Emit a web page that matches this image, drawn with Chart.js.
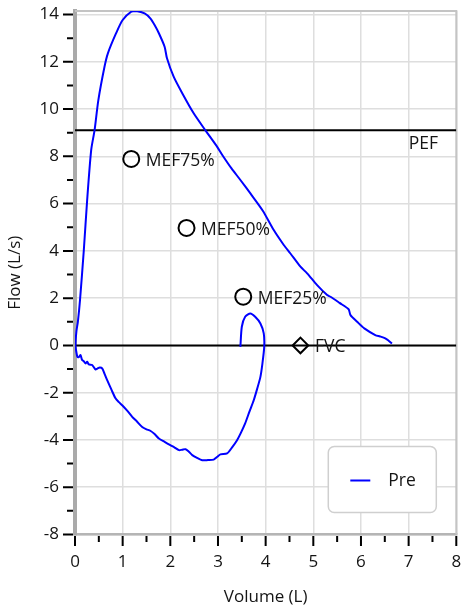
<!DOCTYPE html>
<html><head><meta charset="utf-8">
<script src="https://cdn.jsdelivr.net/npm/chart.js@4.4.1/dist/chart.umd.min.js"></script>
<style>html,body{margin:0;padding:0;background:#fff;overflow:hidden}canvas{display:block}</style>
</head><body>
<canvas id="c" width="462" height="611"></canvas>
<script>
// ---- data ----
const seriesLabel = 'Pre';
const loopVolume = [3.47,3.50,3.57,3.68,3.78,3.89,3.96,3.97,3.93,3.89,3.82,3.75,3.66,3.57,3.48,3.40,3.30,3.19,3.05,2.98,2.91,2.79,2.67,2.56,2.46,2.39,2.32,2.25,2.18,2.09,2.00,1.88,1.76,1.67,1.58,1.50,1.41,1.30,1.20,1.09,0.99,0.92,0.85,0.76,0.675,0.62,0.57,0.52,0.47,0.43,0.36,0.29,0.255,0.22,0.18,0.15,0.115,0.08,0.05,0.03,0.01,
  0.03,0.06,0.105,0.185,0.255,0.34,0.41,0.49,0.62,0.69,0.86,1.0,1.18,1.28,1.46,1.58,1.67,1.76,1.88,1.93,2.07,2.25,2.49,2.74,2.98,3.09,3.28,3.47,3.68,3.94,4.17,4.38,4.52,4.73,4.87,5.08,5.29,5.36,5.55,5.74,5.78,5.92,6.07,6.30,6.40,6.51,6.58,6.65];
const loopFlow = [-0.06,0.79,1.21,1.35,1.21,0.93,0.51,-0.06,-0.8,-1.33,-1.85,-2.32,-2.8,-3.30,-3.7,-4.01,-4.3,-4.57,-4.61,-4.72,-4.83,-4.85,-4.86,-4.76,-4.64,-4.5,-4.39,-4.41,-4.43,-4.32,-4.22,-4.08,-3.94,-3.75,-3.61,-3.55,-3.45,-3.22,-3.02,-2.75,-2.53,-2.4,-2.24,-1.85,-1.47,-1.2,-0.97,-0.93,-0.98,-1.02,-0.83,-0.8,-0.69,-0.76,-0.66,-0.62,-0.41,-0.5,-0.48,-0.3,0.0,
  0.6,1.0,1.92,4.03,6.15,8.27,9.1,10.38,11.8,12.36,13.2,13.77,14.12,14.15,14.05,13.84,13.56,13.21,12.64,12.15,11.37,10.67,9.82,9.09,8.41,8.06,7.5,7.0,6.43,5.7,4.88,4.25,3.89,3.33,3.05,2.55,2.13,2.06,1.8,1.53,1.28,1.0,0.72,0.44,0.38,0.30,0.2,0.08];
const mefLabels = ['MEF75%','MEF50%','MEF25%'];
const mefVolume = [1.18,2.34,3.53];
const mefFlow = [7.89,4.97,2.06];
const fvcLabel = 'FVC';
const fvcVolume = [4.73];
const fvcFlow = [0];
const pefLabel = 'PEF';
const pefFlow = 9.1;
const pefLabelVolume = 7.0;
const xRange = [0, 8];
const yRange = [-8, 14.15];
const xTitle = 'Volume (L)';
const yTitle = 'Flow (L/s)';

const FONT = "'Open Sans', sans-serif";
const TXT = '#141414';

const pts = (xs, ys) => xs.map((x, i) => ({x, y: ys[i]}));

const tickMarks = {
  id: 'tickMarks',
  afterDraw(chart) {
    const ctx = chart.ctx, ca = chart.chartArea;
    const xs = chart.scales.x, ys = chart.scales.y;
    ctx.save();
    ctx.strokeStyle = '#000';
    ctx.lineWidth = 2;
    ctx.beginPath();
    xs.ticks.forEach(t => {
      const p = xs.getPixelForValue(t.value);
      const len = Number.isInteger(t.value) ? 10 : 6;
      ctx.moveTo(p, ca.bottom + 1.5); ctx.lineTo(p, ca.bottom + 1.5 + len);
    });
    ys.ticks.forEach(t => {
      const p = ys.getPixelForValue(t.value);
      const len = t.value % 2 === 0 ? 10 : 6;
      ctx.moveTo(ca.left - 2, p); ctx.lineTo(ca.left - 2 - len, p);
    });
    ctx.stroke();
    ctx.restore();
  }
};

const frame = {
  id: 'frame',
  beforeDatasetsDraw(chart) {
    const ctx = chart.ctx, ca = chart.chartArea;
    ctx.save();
    ctx.strokeStyle = '#c4c4c4';
    ctx.lineWidth = 2;
    ctx.beginPath();
    ctx.moveTo(ca.left, ca.top); ctx.lineTo(ca.right, ca.top); ctx.lineTo(ca.right, ca.bottom);
    ctx.stroke();
    ctx.restore();
  }
};

const annotations = {
  id: 'annotations',
  afterDatasetsDraw(chart) {
    const ctx = chart.ctx;
    const xs = chart.scales.x, ys = chart.scales.y;
    ctx.save();
    ctx.font = '17.5px ' + FONT;
    ctx.fillStyle = TXT;
    ctx.textBaseline = 'middle';
    ctx.textAlign = 'left';
    mefLabels.forEach((l, i) => {
      ctx.fillText(l, xs.getPixelForValue(mefVolume[i]) + 14.5, ys.getPixelForValue(mefFlow[i]) + 2);
    });
    ctx.fillText(fvcLabel, xs.getPixelForValue(fvcVolume[0]) + 14.5, ys.getPixelForValue(fvcFlow[0]) + 2);
    ctx.fillText(pefLabel, xs.getPixelForValue(pefLabelVolume), ys.getPixelForValue(pefFlow) + 14);
    ctx.restore();
  }
};

const boxLegend = {
  id: 'boxLegend',
  afterDraw(chart) {
    const ctx = chart.ctx, ca = chart.chartArea;
    const w = 108, h = 66;
    const bx = ca.right - 128, by = ca.bottom - 88;
    ctx.save();
    ctx.fillStyle = '#fff';
    ctx.strokeStyle = '#cfcfcf';
    ctx.lineWidth = 1.5;
    ctx.beginPath();
    ctx.roundRect(bx, by, w, h, 6);
    ctx.fill(); ctx.stroke();
    const ds = chart.data.datasets[0];
    ctx.strokeStyle = ds.borderColor;
    ctx.lineWidth = 2;
    ctx.beginPath();
    ctx.moveTo(bx + 22, by + 34); ctx.lineTo(bx + 42, by + 34);
    ctx.stroke();
    ctx.font = '17.5px ' + FONT;
    ctx.fillStyle = TXT;
    ctx.textBaseline = 'middle';
    ctx.fillText(ds.label, bx + 60, by + 35);
    ctx.restore();
  }
};

new Chart(document.getElementById('c'), {
  type: 'scatter',
  data: {
    datasets: [
      { label: seriesLabel, data: pts(loopVolume, loopFlow), showLine: true, borderColor: '#0000ff', borderWidth: 2, pointRadius: 0, pointHoverRadius: 0, tension: 0.25, fill: false },
      { label: 'MEF', data: pts(mefVolume, mefFlow), showLine: false, pointStyle: 'circle', pointRadius: 8, pointHoverRadius: 8, pointBorderWidth: 2, pointBorderColor: '#000', pointBackgroundColor: 'rgba(0,0,0,0)' },
      { label: 'FVC', data: pts(fvcVolume, fvcFlow), showLine: false, pointStyle: 'rectRot', pointRadius: 7.8, pointHoverRadius: 7.8, pointBorderWidth: 2, pointBorderColor: '#000', pointBackgroundColor: 'rgba(0,0,0,0)' },
      { label: 'zero', data: pts(xRange, [0, 0]), showLine: true, borderColor: '#000', borderWidth: 2, pointRadius: 0, pointHoverRadius: 0 },
      { label: 'PEF', data: pts(xRange, [pefFlow, pefFlow]), showLine: true, borderColor: '#000', borderWidth: 2, pointRadius: 0, pointHoverRadius: 0 }
    ]
  },
  options: {
    responsive: false,
    animation: false,
    devicePixelRatio: 1,
    events: [],
    layout: { autoPadding: false, padding: { left: 0, right: 5.7, top: 11, bottom: 0 } },
    plugins: { legend: { display: false }, tooltip: { enabled: false } },
    scales: {
      x: {
        type: 'linear', position: 'bottom', min: xRange[0], max: xRange[1],
        ticks: { stepSize: 0.5, autoSkip: false, maxRotation: 0, padding: 0, color: TXT, font: { family: FONT, size: 17 },
          callback: v => Number.isInteger(v) ? String(v) : '' },
        grid: { drawTicks: true, tickLength: 17, tickColor: 'rgba(0,0,0,0)', lineWidth: 1.5, color: c => (c.tick && Number.isInteger(c.tick.value)) ? '#dedede' : 'rgba(0,0,0,0)' },
        border: { color: '#b5b5b5', width: 2.5 },
        title: { display: true, text: xTitle, color: TXT, font: { family: FONT, size: 17 }, padding: { top: 0, bottom: 4 } },
        afterFit: s => { s.height = 76.5; }
      },
      y: {
        type: 'linear', position: 'left', min: yRange[0], max: yRange[1],
        ticks: { stepSize: 1, includeBounds: false, autoSkip: false, padding: 0, color: TXT, font: { family: FONT, size: 17 },
          callback: v => (v % 2 === 0) ? String(v) : '' },
        grid: { drawTicks: true, tickLength: 16, tickColor: 'rgba(0,0,0,0)', lineWidth: 1.5, color: c => (c.tick && c.tick.value % 2 === 0) ? '#dedede' : 'rgba(0,0,0,0)' },
        border: { color: '#aaaaaa', width: 4 },
        title: { display: true, text: yTitle, color: TXT, font: { family: FONT, size: 17 }, padding: { top: 5, bottom: 0 } },
        afterFit: s => { s.width = 75; }
      }
    }
  },
  plugins: [frame, annotations, tickMarks, boxLegend]
});
</script>
</body></html>
